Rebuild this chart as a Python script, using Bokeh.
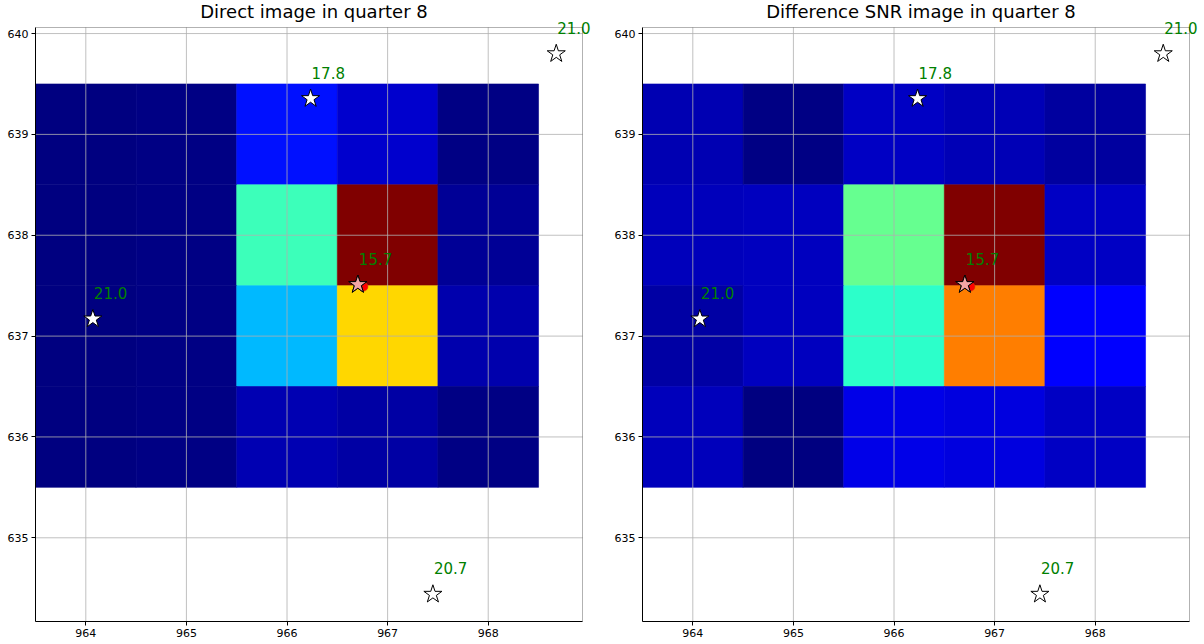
from bokeh.plotting import figure
from bokeh.models import ColumnDataSource, LabelSet, BoxAnnotation
from bokeh.core.properties import value
from bokeh.transform import linear_cmap
from bokeh.layouts import row
from bokeh.embed import file_html
from bokeh.resources import INLINE

# ---------------- data ----------------
col_x = [964, 965, 966, 967, 968]          # pixel centres (column)
row_y = [639, 638, 637, 636]               # pixel centres (row, top to bottom)

direct_flux = [
    [0.000, 0.007, 0.141, 0.070, 0.005],
    [0.000, 0.006, 0.424, 1.000, 0.020],
    [0.003, 0.005, 0.308, 0.682, 0.042],
    [0.000, 0.006, 0.043, 0.035, 0.007],
]
diff_snr = [
    [0.045, 0.007, 0.060, 0.049, 0.028],
    [0.053, 0.057, 0.475, 1.000, 0.060],
    [0.033, 0.055, 0.403, 0.775, 0.115],
    [0.053, 0.000, 0.092, 0.083, 0.060],
]

star_x = [966.234, 968.676, 964.070, 966.704, 967.450]
star_y = [639.355, 639.800, 637.170, 637.511, 634.440]
star_mag = [17.8, 21.0, 21.0, 15.7, 20.7]

target_x = [966.760]
target_y = [637.490]

x_ticks = [964, 965, 966, 967, 968]
y_ticks = [635, 636, 637, 638, 639, 640]

titles = ["Direct image in quarter 8", "Difference SNR image in quarter 8"]

# axes limits
XMIN, XMAX = 963.5, 968.937
YMIN, YMAX = 634.17, 640.06


# ---------------- jet palette ----------------
def _interp(t, pts):
    for (x0, y0), (x1, y1) in zip(pts[:-1], pts[1:]):
        if x0 <= t <= x1:
            return y0 + (y1 - y0) * (t - x0) / (x1 - x0)
    return pts[-1][1]


def jet(n=256):
    R = [(0, 0), (0.35, 0), (0.66, 1), (0.89, 1), (1, 0.5)]
    G = [(0, 0), (0.125, 0), (0.375, 1), (0.64, 1), (0.91, 0), (1, 0)]
    B = [(0, 0.5), (0.11, 1), (0.34, 1), (0.65, 0), (1, 0)]
    out = []
    for i in range(n):
        t = i / (n - 1)
        r, g, b = (int(round(255 * _interp(t, c))) for c in (R, G, B))
        out.append("#%02x%02x%02x" % (r, g, b))
    return out


JET = jet()
FONT = "DejaVu Sans"

FW, FH = 547, 594          # visible axes box in px
EXT_R, EXT_T = 10, 8       # extra room so labels can overflow the box
SX = FW / (XMAX - XMIN)
SY = FH / (YMAX - YMIN)


def panel(title, values, bl, br):
    p = figure(
        title=title,
        frame_width=FW + EXT_R, frame_height=FH + EXT_T,
        x_range=(XMIN, XMAX + EXT_R / SX), y_range=(YMIN, YMAX + EXT_T / SY),
        output_backend="svg", toolbar_location=None,
        min_border_left=bl, min_border_right=br,
        min_border_top=19, min_border_bottom=19,
    )
    p.title.text_font = FONT
    p.title.text_font_size = "18px"
    p.title.text_font_style = "normal"
    p.title.align = "center"
    p.title.offset = -EXT_R / 2
    p.title.standoff = -5
    p.title.text_color = "black"

    xs, ys, vs = [], [], []
    for j, yy in enumerate(row_y):
        for i, xx in enumerate(col_x):
            xs.append(xx)
            ys.append(yy)
            vs.append(values[j][i])
    flat = [v for r in values for v in r]
    lo, hi = min(flat), max(flat)
    src = ColumnDataSource(dict(x=xs, y=ys, v=vs))
    cmap = linear_cmap("v", JET, lo, hi)
    p.rect(x="x", y="y", width=1, height=1, source=src,
           fill_color=cmap, line_color=cmap, line_width=0.6, level="image")

    # grid lines confined to the axes box
    p.grid.visible = False
    p.segment(x0=x_ticks, y0=[YMIN] * len(x_ticks), x1=x_ticks,
              y1=[YMAX] * len(x_ticks), line_color="#b0b0b0",
              line_width=0.8, level="underlay")
    p.segment(x0=[XMIN] * len(y_ticks), y0=y_ticks, x1=[XMAX] * len(y_ticks),
              y1=y_ticks, line_color="#b0b0b0", line_width=0.8,
              level="underlay")

    # target position dot
    p.scatter(target_x, target_y, marker="circle", size=9,
              fill_color="red", line_color="#d04000", line_width=0.5)

    ssrc = ColumnDataSource(dict(x=star_x, y=star_y,
                                 label=["%.1f" % m for m in star_mag]))
    p.scatter(x="x", y="y", source=ssrc, marker="star", size=19,
              fill_color="white", line_color="black", line_width=1)
    k = star_mag.index(min(star_mag))
    p.scatter([star_x[k]], [star_y[k]], marker="star", size=19,
              fill_color="#f4a6a6", line_color="black", line_width=1)

    p.add_layout(LabelSet(x="x", y="y", text="label", source=ssrc,
                          x_offset=1, y_offset=20, text_color="#008000",
                          text_font=value(FONT), text_font_size="15px",
                          text_baseline="alphabetic", text_align="left"))

    # axes box (spines)
    p.add_layout(BoxAnnotation(left=XMIN, right=XMAX, bottom=YMIN, top=YMAX,
                               fill_alpha=0, fill_color=None,
                               line_color="black", line_width=1,
                               level="overlay"))
    p.outline_line_color = None

    p.xaxis.ticker = x_ticks
    p.yaxis.ticker = y_ticks
    p.xaxis.bounds = (XMIN, XMAX)
    p.yaxis.bounds = (YMIN, YMAX)
    p.axis.major_tick_out = 4
    p.axis.major_tick_in = 0
    p.axis.minor_tick_out = 0
    p.axis.minor_tick_in = 0
    p.axis.major_tick_line_color = "black"
    p.axis.axis_line_color = "black"
    p.axis.major_label_text_font = FONT
    p.axis.major_label_text_font_size = "11px"
    p.axis.major_label_text_color = "black"
    p.axis.major_label_standoff = 3
    p.background_fill_color = "white"
    p.border_fill_color = "white"
    return p


p1 = panel(titles[0], direct_flux, 35, 10)
p2 = panel(titles[1], diff_snr, 40, 0)
layout = row(p1, p2)

open("out.html", "w").write(file_html(layout, INLINE))
